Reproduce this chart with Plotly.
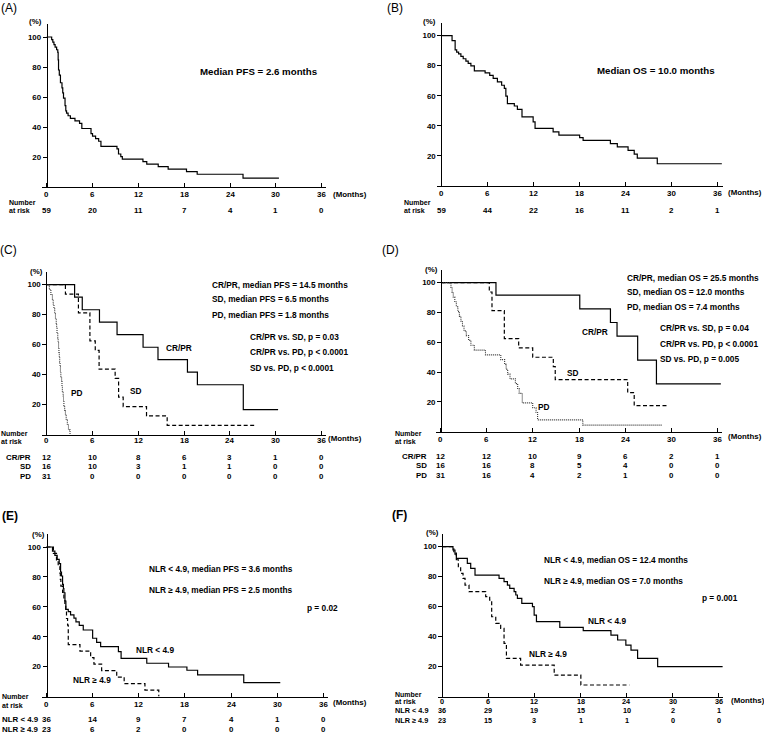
import plotly.graph_objects as go

W, H = 764, 735
FONT = "Liberation Sans, Arial, sans-serif"

# ---------------- data ----------------
month_ticks = [0, 6, 12, 18, 24, 30, 36]
pct_ticks = [20, 40, 60, 80, 100]

# (A) PFS overall
A_t = [0.65, 0.8, 0.95, 1.1, 1.3, 1.45, 1.5, 1.55, 1.65, 1.8, 2.0, 2.1, 2.2, 2.4, 2.5, 2.6, 2.8, 3.1,
       3.7, 4.3, 4.6, 5.8, 6.0, 6.4, 6.8, 7.1, 9.2, 9.4, 9.7, 9.9, 12.6, 13.1, 14.6, 15.9, 18.3, 19.7, 25.7]
A_s = [98.3, 96.6, 94.9, 93.2, 91.5, 89.8, 84.7, 78.0, 74.6, 69.5, 66.1, 62.7, 59.3, 54.2, 50.8, 49.2,
       47.5, 45.8, 44.1, 42.4, 39.0, 35.6, 33.9, 32.2, 30.5, 27.1, 25.4, 22.0, 20.3, 18.6, 16.9, 15.3,
       13.6, 11.9, 10.2, 8.5, 5.9]
A_end = 30.4
A_risk = [59, 20, 11, 7, 4, 1, 0]

# (B) OS overall
B_t = [1.4, 1.8, 2.0, 2.25, 2.55, 2.85, 3.2, 3.5, 3.85, 4.3, 5.7, 6.3, 6.75, 7.3, 7.85, 8.2, 8.4, 8.6,
       9.5, 9.9, 10.5, 11.95, 12.2, 14.55, 15.3, 18.0, 18.45, 22.0, 22.9, 24.3, 25.1, 25.5, 28.1]
B_s = [96.6, 90.5, 89.0, 87.8, 86.2, 84.6, 83.0, 81.5, 79.9, 76.6, 75.2, 73.6, 71.5, 69.3, 67.0, 64.9,
       59.8, 54.8, 53.2, 51.0, 45.9, 42.6, 38.3, 36.0, 33.8, 32.2, 30.3, 28.2, 26.0, 23.7, 21.2, 18.6, 14.8]
B_end = 36.5
B_risk = [59, 44, 22, 16, 11, 2, 1]

# (C) PFS by response
C_crpr_t = [3.7, 4.7, 6.95, 9.25, 12.65, 14.6, 18.45, 19.75, 25.75]
C_crpr_s = [91.7, 83.3, 75.0, 66.7, 58.3, 50.0, 41.7, 33.3, 16.7]
C_crpr_end = 30.3
C_sd_t = [2.5, 4.2, 5.7, 6.4, 6.9, 9.0, 9.45, 10.05, 13.1, 15.8]
C_sd_s = [93.75, 81.25, 62.5, 56.25, 43.75, 37.5, 25.0, 18.75, 12.5, 6.25]
C_sd_end = 27.4
C_pd_t = [0.4, 0.6, 0.8, 0.9, 1.0, 1.1, 1.2, 1.3, 1.35, 1.4, 1.5, 1.55, 1.6, 1.65, 1.7, 1.75, 1.8,
          1.85, 1.9, 2.0, 2.05, 2.1, 2.2, 2.25, 2.3, 2.4, 2.5, 2.6, 2.75, 2.9, 3.1]
C_pd_s = [96.8, 93.5, 90.3, 87.1, 83.9, 80.6, 77.4, 74.2, 71.0, 67.7, 64.5, 61.3, 58.1, 54.8, 51.6,
          48.4, 45.2, 41.9, 38.7, 35.5, 32.3, 29.0, 25.8, 22.6, 19.4, 16.1, 12.9, 9.7, 6.5, 3.2, 0.0]
C_pd_end = 3.1
C_risk_crpr = [12, 10, 8, 6, 3, 1, 0]
C_risk_sd = [16, 10, 3, 1, 1, 0, 0]
C_risk_pd = [31, 0, 0, 0, 0, 0, 0]

# (D) OS by response
D_crpr_t = [7.17, 18.1, 22.1, 22.96, 25.65, 28.1]
D_crpr_s = [91.7, 82.5, 73.3, 64.2, 48.1, 32.1]
D_crpr_end = 36.5
D_sd_t = [6.3, 6.65, 8.26, 10.13, 11.96, 14.65, 14.9, 24.35, 25.2]
D_sd_s = [93.75, 81.25, 62.5, 56.25, 50.0, 43.75, 35.0, 26.3, 17.5]
D_sd_end = 29.6
D_pd_t = [1.3, 1.45, 1.6, 1.8, 2.0, 2.2, 2.4, 2.6, 2.8, 3.0, 3.3, 3.6, 3.9, 4.35, 5.8, 7.8, 8.3,
          8.5, 8.7, 9.0, 9.7, 10.0, 10.2, 10.6, 11.96, 12.4, 12.6, 18.5]
D_pd_s = [96.8, 93.5, 90.3, 87.1, 83.9, 80.6, 77.4, 74.2, 71.0, 67.7, 64.5, 61.3, 58.1, 54.8, 51.6,
          48.4, 45.2, 41.9, 38.7, 35.5, 32.3, 29.0, 25.8, 19.4, 16.1, 12.9, 8.0, 4.5]
D_pd_end = 28.8
D_risk_crpr = [12, 12, 10, 9, 6, 2, 1]
D_risk_sd = [16, 16, 8, 5, 4, 0, 0]
D_risk_pd = [31, 16, 4, 2, 1, 0, 0]

# (E) PFS by NLR
E_lo_t = [0.78, 1.09, 1.39, 1.65, 1.83, 1.95, 2.09, 2.2, 2.26, 2.4, 2.52, 2.83, 3.13, 3.57, 3.83,
          4.26, 4.78, 6.0, 6.52, 7.04, 9.35, 9.7, 13.04, 15.87, 18.26, 19.65, 25.65]
E_lo_s = [97.2, 94.4, 91.7, 88.9, 83.3, 80.6, 75.0, 72.2, 69.4, 63.9, 58.3, 56.8, 54.6, 52.4, 50.0,
          47.6, 44.5, 39.0, 36.2, 33.4, 30.0, 25.6, 22.3, 19.8, 17.6, 14.5, 9.4]
E_lo_end = 30.4
E_hi_t = [0.9, 1.3, 1.52, 1.74, 1.8, 1.87, 2.09, 2.26, 2.39, 2.5, 2.6, 2.74, 2.83, 4.35, 5.74, 6.17,
          7.17, 9.13, 10.1, 12.8, 14.6]
E_hi_s = [95.7, 91.3, 87.0, 82.6, 78.3, 73.9, 69.6, 65.2, 60.9, 56.5, 52.2, 47.8, 34.8, 30.4, 26.1,
          21.7, 17.4, 13.0, 8.7, 4.3, 0.0]
E_hi_end = 14.6
E_risk_lo = [36, 14, 9, 7, 4, 1, 0]
E_risk_hi = [23, 6, 2, 0, 0, 0, 0]

# (F) OS by NLR
F_lo_t = [1.39, 1.65, 1.83, 3.26, 3.7, 4.26, 7.39, 8.04, 8.48, 8.78, 9.35, 9.57, 9.78, 10.35, 11.74,
          11.96, 12.26, 15.3, 18.35, 21.96, 22.83, 23.9, 24.57, 25.43, 28.04]
F_lo_s = [97.8, 95.0, 92.2, 88.9, 85.5, 81.1, 78.9, 76.7, 74.4, 72.2, 70.0, 67.8, 65.6, 62.2, 60.0,
          54.4, 50.0, 46.2, 44.0, 41.1, 37.8, 34.4, 31.1, 25.6, 20.0]
F_lo_end = 36.5
F_hi_t = [1.5, 1.83, 2.09, 2.39, 2.7, 2.96, 3.48, 5.65, 6.17, 6.43, 6.96, 7.6, 8.04, 8.35, 10.2,
          14.57, 18.04]
F_hi_s = [95.7, 91.3, 86.7, 82.2, 78.9, 74.4, 70.0, 66.7, 64.4, 53.3, 48.9, 45.6, 35.6, 25.6, 21.1,
          14.4, 7.8]
F_hi_end = 24.35
F_risk_lo = [36, 29, 19, 15, 10, 2, 1]
F_risk_hi = [23, 15, 3, 1, 1, 0, 0]

# ---------------- layout geometry (pixels) ----------------
# t0: x pixel of month 0, ppm: px per month, y0: y pixel of 0 %, ppp: px per %
GEOM = {
    1: dict(t0=46.7, ppm=7.639, y0=187.0, ppp=1.50, lab=194, fs=7.9),
    2: dict(t0=441.3, ppm=7.686, y0=186.0, ppp=1.504, lab=193, fs=7.9),
    3: dict(t0=46.3, ppm=7.65, y0=434.7, ppp=1.50, lab=440, fs=7.9),
    4: dict(t0=441.0, ppm=7.667, y0=431.8, ppp=1.491, lab=439, fs=7.9),
    5: dict(t0=46.5, ppm=7.69, y0=696.6, ppp=1.496, lab=704, fs=7.9),
    6: dict(t0=442.3, ppm=7.68, y0=696.7, ppp=1.50, lab=701.5, fs=7.3),
}
XMIN, XMAX, YMAX = -0.6, 36.6, 108.5
SMALL = 7.9
NR = 7.0
BIG = 9.7
MID = 8.3


def px(x):
    return x / W


def py(y):
    return 1 - y / H


fig = go.Figure()
layout = dict(
    width=W, height=H, margin=dict(l=0, r=0, t=0, b=0, autoexpand=False),
    paper_bgcolor="white", plot_bgcolor="white", showlegend=False,
    font=dict(family=FONT, size=8, color="black", weight="bold"),
)

for i, g in GEOM.items():
    sx = "" if i == 1 else str(i)
    layout["xaxis" + sx] = dict(
        domain=[px(g["t0"] + XMIN * g["ppm"]), px(g["t0"] + XMAX * g["ppm"])],
        range=[XMIN, XMAX], anchor="y" + sx, showline=True, linecolor="black", linewidth=1,
        ticks="inside", ticklen=4, tickcolor="black", tickwidth=1, tickvals=month_ticks,
        showticklabels=False, showgrid=False, zeroline=False, fixedrange=True,
    )
    layout["yaxis" + sx] = dict(
        domain=[py(g["y0"]), py(g["y0"] - YMAX * g["ppp"])],
        range=[0, YMAX], anchor="free", position=px(g["t0"]), showline=True, linecolor="black",
        linewidth=1, ticks="outside", ticklen=4, tickcolor="black", tickwidth=1, tickvals=pct_ticks,
        showgrid=False, zeroline=False, fixedrange=True,
        tickfont=dict(family=FONT, size=SMALL, color="black", weight="bold"),
    )

SOLID = dict(color="black", width=1.2)
DASH = dict(color="black", width=1.2, dash="4px,2.5px")
DOT = dict(color="#333333", width=1.1, dash="1px,1px")


def km(i, t, s, end, style):
    sx = "" if i == 1 else str(i)
    xs = [0] + list(t)
    ys = [100] + list(s)
    if end > xs[-1]:
        xs.append(end)
        ys.append(ys[-1])
    fig.add_trace(go.Scatter(x=xs, y=ys, mode="lines", line=dict(shape="hv", **style),
                             xaxis="x" + sx, yaxis="y" + sx, hoverinfo="skip"))


km(1, A_t, A_s, A_end, SOLID)
km(2, B_t, B_s, B_end, SOLID)
km(3, C_crpr_t, C_crpr_s, C_crpr_end, SOLID)
km(3, C_sd_t, C_sd_s, C_sd_end, DASH)
km(3, C_pd_t, C_pd_s, C_pd_end, DOT)
km(4, D_crpr_t, D_crpr_s, D_crpr_end, SOLID)
km(4, D_sd_t, D_sd_s, D_sd_end, DASH)
km(4, D_pd_t, D_pd_s, D_pd_end, DOT)
km(5, E_lo_t, E_lo_s, E_lo_end, SOLID)
km(5, E_hi_t, E_hi_s, E_hi_end, DASH)
km(6, F_lo_t, F_lo_s, F_lo_end, SOLID)
km(6, F_hi_t, F_hi_s, F_hi_end, DASH)

ann = []


def text(x, y, s, size=SMALL, anchor="left", bold=True):
    ann.append(dict(x=px(x), y=py(y), xref="paper", yref="paper", text=s, showarrow=False,
                    xanchor=anchor, yanchor="middle", borderpad=0,
                    font=dict(family=FONT, size=size, color="black",
                              weight="bold" if bold else "normal")))


def row(i, values, y):
    sx = "" if i == 1 else str(i)
    for m, v in zip(month_ticks, values):
        ann.append(dict(x=m, y=py(y), xref="x" + sx, yref="paper", text=str(v), showarrow=False,
                        xanchor="center", yanchor="middle", borderpad=0,
                        font=dict(family=FONT, size=GEOM[i]["fs"], color="black", weight="bold")))


# x tick labels
for i, g in GEOM.items():
    row(i, month_ticks, g["lab"])

# Panel A
text(0, 8, "(A)", 12, bold=False)
text(35, 22, "(%)", SMALL, "center")
text(332, 194, "(Months)", SMALL)
text(258, 72, "Median PFS = 2.6 months", BIG, "center")
text(8, 202.5, "Number", NR)
text(8, 211, "at risk", NR)
row(1, A_risk, 211)

# Panel B
text(386, 8, "(B)", 12, bold=False)
text(430, 22, "(%)", SMALL, "center")
text(727, 192, "(Months)", SMALL)
text(656, 71, "Median OS = 10.0 months", BIG, "center")
text(403, 202, "Number", NR)
text(403, 210.5, "at risk", NR)
row(2, B_risk, 211)

# Panel C
text(-1, 250, "(C)", 12, bold=False)
text(36, 271, "(%)", SMALL, "center")
text(327, 438, "(Months)", SMALL)
text(0, 433.5, "Number", NR)
text(0, 442, "at risk", NR)
text(32, 457, "CR/PR", anchor="right")
text(32, 466, "SD", anchor="right")
text(32, 476, "PD", anchor="right")
row(3, C_risk_crpr, 457)
row(3, C_risk_sd, 466)
row(3, C_risk_pd, 476)
text(211, 285, "CR/PR, median PFS = 14.5 months", MID)
text(211, 299, "SD, median PFS = 6.5 months", MID)
text(211, 315, "PD, median PFS = 1.8 months", MID)
text(249, 337, "CR/PR vs. SD, p = 0.03", MID)
text(249, 352, "CR/PR vs. PD, p < 0.0001", MID)
text(249, 368, "SD vs. PD, p < 0.0001", MID)
text(179, 348, "CR/PR", MID, "center")
text(136, 391, "SD", MID, "center")
text(77, 393, "PD", MID, "center")

# Panel D
text(381, 250, "(D)", 12, bold=False)
text(431, 269, "(%)", SMALL, "center")
text(727, 437, "(Months)", SMALL)
text(394, 433, "Number", NR)
text(394, 441.5, "at risk", NR)
text(428, 456, "CR/PR", anchor="right")
text(428, 465, "SD", anchor="right")
text(428, 475, "PD", anchor="right")
row(4, D_risk_crpr, 456)
row(4, D_risk_sd, 465)
row(4, D_risk_pd, 475)
text(626, 278, "CR/PR, median OS = 25.5 months", MID)
text(626, 292, "SD, median OS = 12.0 months", MID)
text(626, 307, "PD, median OS = 7.4 months", MID)
text(659, 328, "CR/PR vs. SD, p = 0.04", MID)
text(659, 344, "CR/PR vs. PD, p < 0.0001", MID)
text(659, 359, "SD vs. PD, p = 0.005", MID)
text(595, 332, "CR/PR", MID, "center")
text(573, 373, "SD", MID, "center")
text(544, 407, "PD", MID, "center")

# Panel E
text(1, 516, "(E)", 12)
text(38, 534, "(%)", SMALL, "center")
text(332, 702, "(Months)", SMALL)
text(1, 696.5, "Number", NR)
text(1, 705, "at risk", NR)
text(1, 719, "NLR < 4.9")
text(1, 729, "NLR ≥ 4.9")
row(5, E_risk_lo, 719)
row(5, E_risk_hi, 729)
text(148, 569, "NLR < 4.9, median PFS = 3.6 months", MID)
text(148, 590, "NLR ≥ 4.9, median PFS = 2.5 months", MID)
text(306, 608, "p = 0.02", MID)
text(155, 650, "NLR < 4.9", MID, "center")
text(92, 680, "NLR ≥ 4.9", MID, "center")

# Panel F
FS = GEOM[6]["fs"]
text(391, 515, "(F)", 12)
text(432, 532, "(%)", SMALL, "center")
text(730, 700.5, "(Months)", SMALL)
text(394, 694.5, "Number", NR)
text(394, 701.5, "at risk", NR)
text(394, 710.5, "NLR < 4.9", FS)
text(394, 720, "NLR ≥ 4.9", FS)
row(6, F_risk_lo, 710.5)
row(6, F_risk_hi, 720)
text(543, 560, "NLR < 4.9, median OS = 12.4 months", MID)
text(543, 581, "NLR ≥ 4.9, median OS = 7.0 months", MID)
text(701, 598, "p = 0.001", MID)
text(607, 621, "NLR < 4.9", MID, "center")
text(548, 654, "NLR ≥ 4.9", MID, "center")

layout["annotations"] = ann
fig.update_layout(**layout)
fig.write_html("out.html", config={"displayModeBar": False},
               post_script="document.body.style.margin='0';document.body.style.padding='0';")
